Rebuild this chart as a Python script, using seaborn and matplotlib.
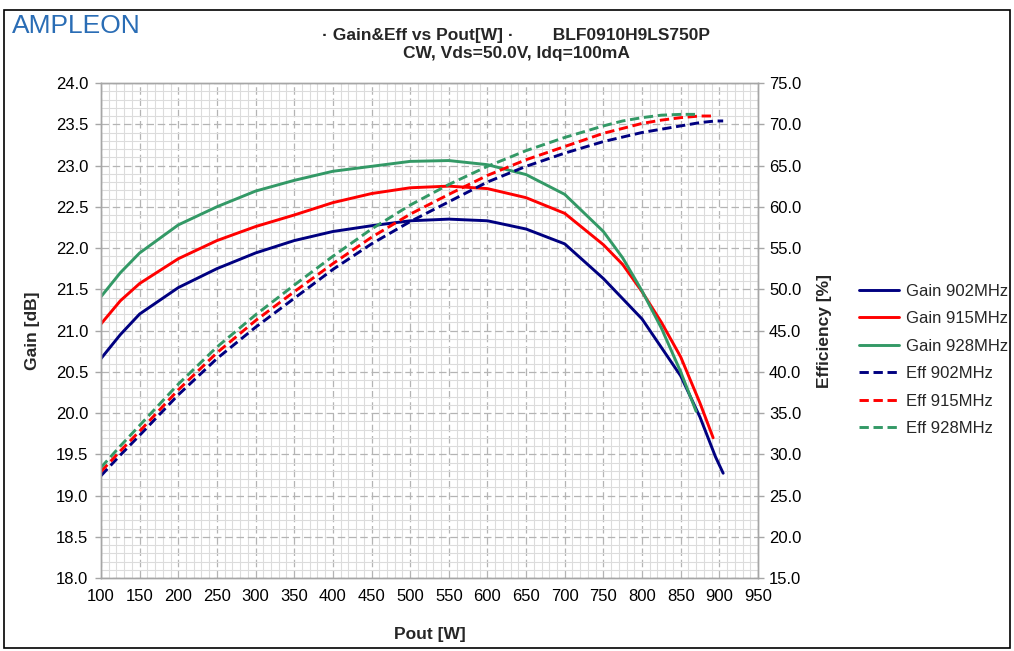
import matplotlib
matplotlib.use("Agg")
import matplotlib.pyplot as plt
from matplotlib.patches import Rectangle
from matplotlib.ticker import MultipleLocator, FormatStrFormatter
import seaborn as sns

# --- data ---
pout_902 = [100, 125, 150, 200, 250, 300, 350, 400, 450, 500, 550, 600, 650, 700, 750, 800, 850, 875, 895, 905]
gain_902 = [20.66, 20.95, 21.20, 21.52, 21.75, 21.94, 22.09, 22.20, 22.27, 22.33, 22.35, 22.33, 22.23, 22.05,
            21.63, 21.14, 20.45, 19.95, 19.47, 19.27]
eff_902 = [27.4, 29.9, 32.3, 37.2, 41.6, 45.4, 48.9, 52.4, 55.5, 58.2, 60.6, 63.0, 64.9, 66.5,
           67.9, 69.0, 69.8, 70.2, 70.4, 70.4]

pout_915 = [100, 125, 150, 200, 250, 300, 350, 400, 450, 500, 550, 600, 650, 700, 750, 775, 800, 825, 850, 875, 892]
gain_915 = [21.08, 21.36, 21.57, 21.87, 22.09, 22.26, 22.40, 22.55, 22.66, 22.73, 22.75, 22.72, 22.61, 22.42,
            22.04, 21.80, 21.47, 21.10, 20.68, 20.12, 19.70]
eff_915 = [27.9, 30.4, 32.8, 37.8, 42.3, 46.2, 49.7, 53.1, 56.3, 59.1, 61.5, 63.8, 65.7, 67.3,
           68.9, 69.5, 70.1, 70.5, 70.8, 71.0, 71.0]

pout_928 = [100, 125, 150, 200, 250, 300, 350, 400, 450, 500, 550, 600, 650, 700, 750, 775, 800, 825, 850, 870]
gain_928 = [21.41, 21.70, 21.94, 22.28, 22.50, 22.69, 22.82, 22.93, 22.99, 23.05, 23.06, 23.01, 22.89, 22.65,
            22.20, 21.88, 21.48, 21.03, 20.50, 20.02]
eff_928 = [28.4, 31.0, 33.5, 38.5, 43.0, 46.9, 50.5, 54.0, 57.3, 60.2, 62.7, 64.9, 66.8, 68.4,
           69.8, 70.4, 70.8, 71.1, 71.2, 71.2]

freqs = ["902MHz", "915MHz", "928MHz"]
colors = ["#000080", "#ff0000", "#339966"]

sns.set_style("white")
plt.rcParams["font.family"] = ["Liberation Sans", "DejaVu Sans"]

fig = plt.figure(figsize=(10.14, 6.51), dpi=100)
ax = fig.add_axes([0.0996, 0.1121, 0.6479, 0.7604])
ax2 = ax.twinx()

gain_sets = [(pout_902, gain_902), (pout_915, gain_915), (pout_928, gain_928)]
eff_sets = [(pout_902, eff_902), (pout_915, eff_915), (pout_928, eff_928)]

for (px, g), f, c in zip(gain_sets, freqs, colors):
    sns.lineplot(x=px, y=g, ax=ax, color=c, lw=2.1, label="Gain " + f, legend=False)
for (px, e), f, c in zip(eff_sets, freqs, colors):
    sns.lineplot(x=px, y=e, ax=ax2, color=c, lw=2.1, linestyle=(0, (3.2, 1.6)),
                 label="Eff " + f, legend=False)

# axes ranges / ticks
ax.set_xlim(100, 950)
ax.set_ylim(18, 24)
ax2.set_ylim(15, 75)
ax.xaxis.set_major_locator(MultipleLocator(50))
ax.xaxis.set_minor_locator(MultipleLocator(10))
ax.yaxis.set_major_locator(MultipleLocator(0.5))
ax.yaxis.set_minor_locator(MultipleLocator(0.1))
ax.yaxis.set_major_formatter(FormatStrFormatter("%.1f"))
ax2.yaxis.set_major_locator(MultipleLocator(5))
ax2.yaxis.set_major_formatter(FormatStrFormatter("%.1f"))

ax.grid(which="minor", color="#dcdcdc", lw=0.8, linestyle="-")
ax.grid(which="major", color="#b4b4b4", lw=0.9, linestyle=(0, (6, 3)))
ax.set_axisbelow(True)

for a in (ax, ax2):
    for s in a.spines.values():
        s.set_color("#a6a6a6")
        s.set_linewidth(1.0)
    a.tick_params(which="major", length=4, width=1, color="#a6a6a6", labelsize=12, labelcolor="black")
    a.tick_params(which="minor", length=0)
ax.tick_params(axis="x", pad=4)
ax.tick_params(axis="y", pad=5)
ax2.tick_params(axis="y", pad=4)

ax.set_xlabel("Pout [W]", fontsize=12.5, fontweight="bold")
ax.set_ylabel("Gain [dB]", fontsize=12.5, fontweight="bold")
ax2.set_ylabel("Efficiency [%]", fontsize=12.5, fontweight="bold")
ax.xaxis.set_label_coords(0.5, -0.099)
ax.yaxis.set_label_coords(-0.093, 0.5)
ax2.yaxis.set_label_coords(1.09, 0.5)

# titles and logo
fig.text(0.509, 0.946, "· Gain&Eff vs Pout[W] ·        BLF0910H9LS750P", ha="center", va="center",
         fontsize=12.5, fontweight="bold")
fig.text(0.509, 0.918, "CW, Vds=50.0V, Idq=100mA", ha="center", va="center",
         fontsize=12.5, fontweight="bold")
fig.text(0.012, 0.960, "AMPLEON", ha="left", va="center", fontsize=19, color="#2a6db5")

# legend combining both axes
h1, l1 = ax.get_legend_handles_labels()
h2, l2 = ax2.get_legend_handles_labels()
fig.legend(h1 + h2, l1 + l2, loc="center left", bbox_to_anchor=(0.832, 0.447), frameon=False,
           fontsize=12, handlelength=2.4, handletextpad=0.45, labelspacing=0.75)

fig.patches.append(Rectangle((0.004, 0.005), 0.992, 0.98, transform=fig.transFigure,
                             fill=False, edgecolor="black", lw=1.2))

fig.savefig("out.png", dpi=100)
